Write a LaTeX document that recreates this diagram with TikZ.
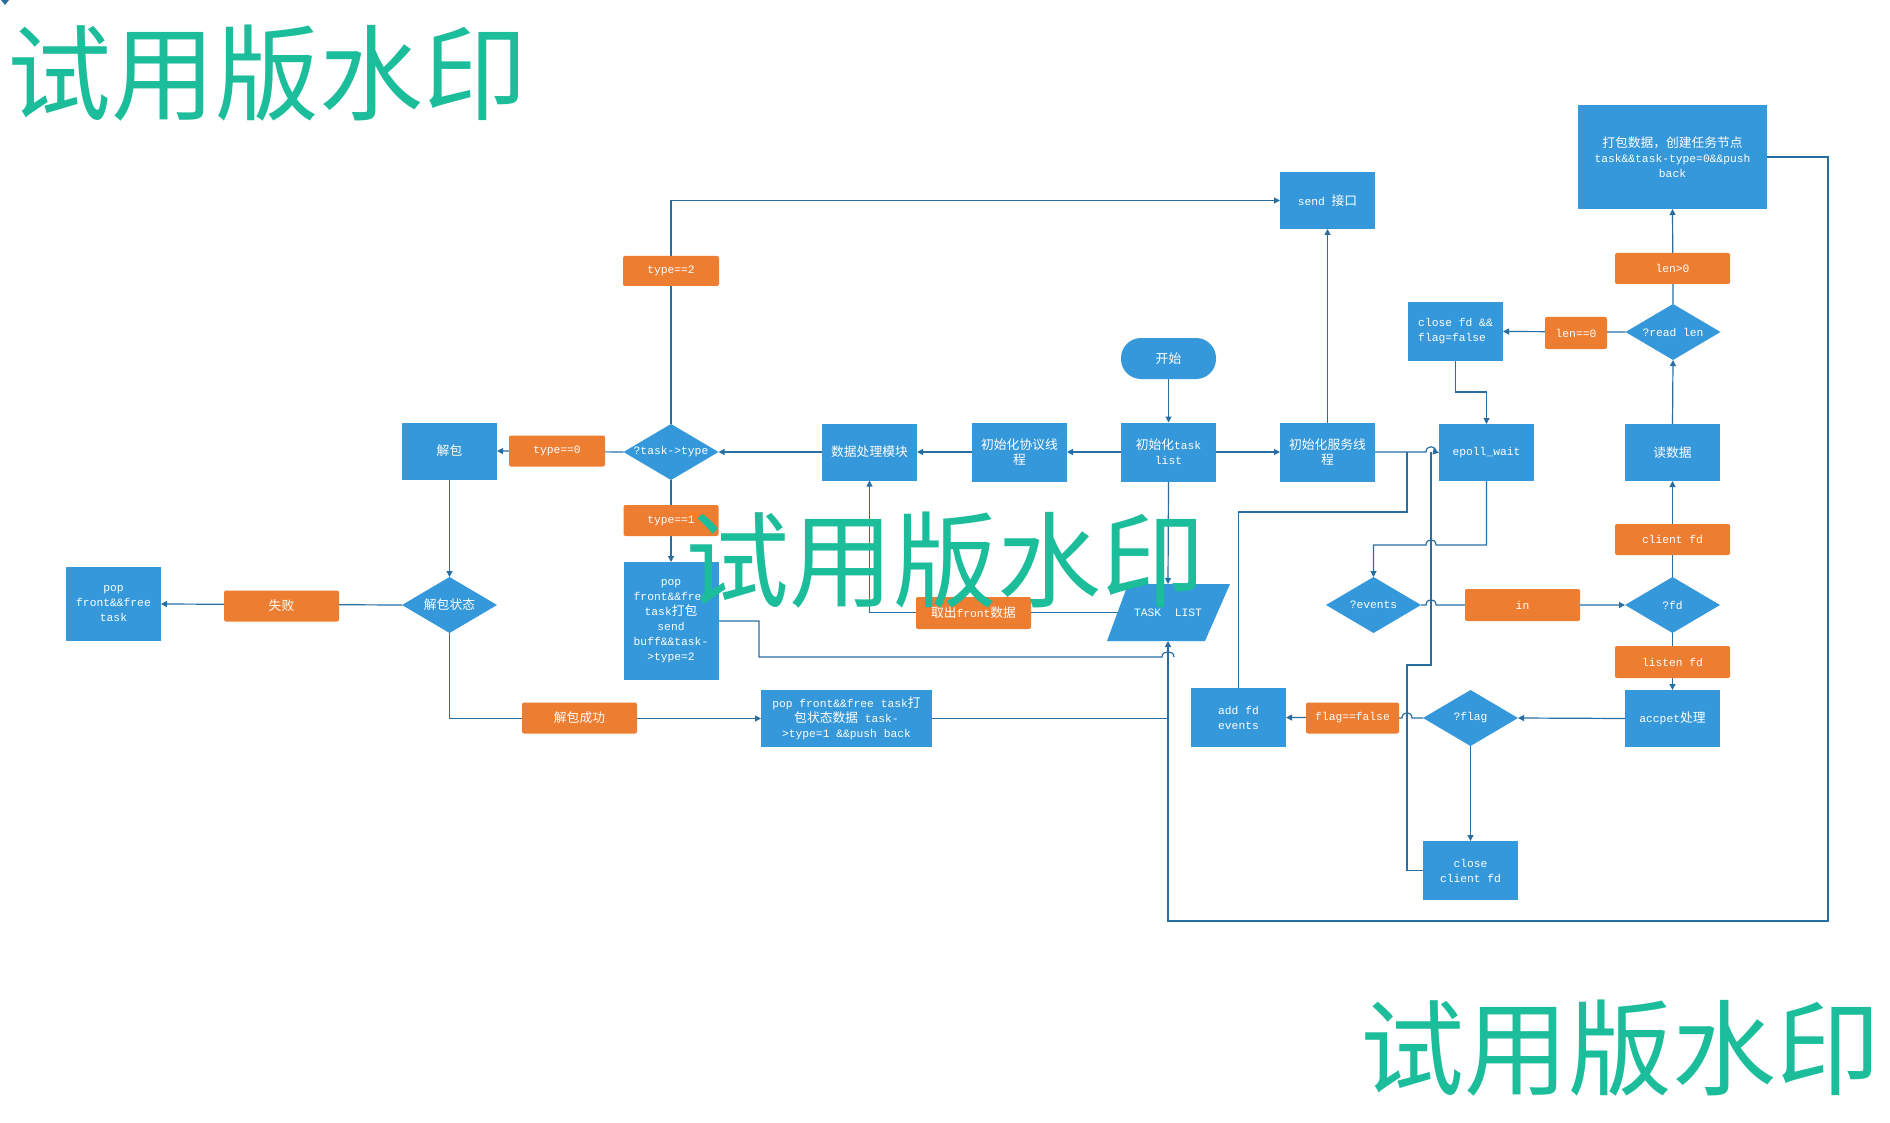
\documentclass[tikz,border=0pt]{standalone}
\usepackage{fontspec}
\setmainfont{Liberation Mono}
\newfontfamily\cjk[Scale=1.13]{Noto Sans CJK SC}
\newfontfamily\wmfont{Noto Sans CJK SC}
\usetikzlibrary{shapes.geometric,arrows.meta}
\definecolor{boxblue}{RGB}{53,152,219}
\definecolor{labelorange}{RGB}{237,125,49}
\definecolor{linkblue}{RGB}{41,110,163}
\definecolor{stampgreen}{RGB}{28,189,155}
\pgfdeclarelayer{paper}
\pgfdeclarelayer{links}
\pgfsetlayers{paper,links,main}
\begin{document}
\begin{tikzpicture}[x=1pt,y=-1pt,
  every node/.style={font=\fontsize{11.3}{15}\selectfont, text=white, inner sep=1pt, outer sep=0pt, align=center},
  blk/.style={rectangle, fill=boxblue, minimum width=95pt, minimum height=57pt},
  tag/.style={rectangle, rounded corners=2pt, fill=labelorange, minimum width=115pt, minimum height=31pt},
  ask/.style={diamond, fill=boxblue, inner sep=0pt, minimum width=95pt, minimum height=56pt},
  link/.style={draw=linkblue, line width=1.2pt},
  arr/.style={link, -{Triangle[length=6pt,width=6pt]}},
  stamp/.style={font=\wmfont\fontsize{104}{104}\selectfont, text=stampgreen, inner sep=0pt}
]
\begin{pgfonlayer}{paper}
\fill[white] (0,0) rectangle (1890,1123);
\end{pgfonlayer}
\useasboundingbox (0,0) rectangle (1890,1123);
\fill[linkblue] (1,0) -- (9,0) -- (5,5) -- cycle;

% ---- process boxes
\node[blk, minimum width=189pt, minimum height=104pt] (pack) at (1672.5,157) {{\cjk 打包数据，创建任务节点}\\task\&\&task-type=0\&\&push\\back};
\node[blk] (send) at (1327.5,200.5) {send {\cjk 接口}};
\node[blk, minimum height=59pt, align=left] (closefd) at (1455.5,331.5) {close fd \&\&\\flag=false};
\node[blk] (epoll) at (1486.5,452.5) {epoll\_wait};
\node[blk] (readd) at (1672.5,452.5) {{\cjk 读数据}};
\node[blk, rounded corners=20pt, minimum height=41pt] (start) at (1168.5,358.5) {{\cjk 开始}};
\node[blk, minimum height=59pt] (tasklist) at (1168.5,452) {{\cjk 初始化}task\\list};
\node[blk, minimum height=59pt] (srv) at (1327.5,452) {{\cjk 初始化服务线}\\{\cjk 程}};
\node[blk, minimum height=59pt] (proto) at (1019.5,452) {{\cjk 初始化协议线}\\{\cjk 程}};
\node[blk] (proc) at (869.5,452) {{\cjk 数据处理模块}};
\node[blk] (unpack) at (449.5,451) {{\cjk 解包}};
\node[blk, minimum height=74pt] (popA) at (113.5,604) {pop\\front\&\&free\\task};
\node[blk, minimum height=118pt] (popB) at (671,621) {pop\\front\&\&free\\task{\cjk 打包}\\send\\buff\&\&task-\\>type=2};
\node[blk, minimum width=171pt] (popC) at (846.5,718.5) {pop front\&\&free task{\cjk 打}\\{\cjk 包状态数据} task-\\>type=1 \&\&push back};
\node[blk, minimum height=59pt, align=left] (addfd) at (1238.5,717.5) {add fd\\events};
\node[blk] (accept) at (1672.5,718.5) {accpet{\cjk 处理}};
\node[blk, minimum height=59pt] (closecl) at (1470.5,870.5) {close\\client fd};

% ---- task list (data)
\fill[boxblue] (1128,584) -- (1230,584) -- (1205,641) -- (1107,641) -- cycle;
\node[minimum width=95pt, minimum height=57pt] (TL) at (1168,612.5) {TASK~~LIST};

% ---- decisions
\node[ask] (qtype) at (671,452) {\makebox[0pt]{?task->type}};
\node[ask] (unst) at (449.5,605) {\makebox[0pt]{\cjk 解包状态}};
\node[ask] (qread) at (1673,332) {\makebox[0pt]{?read len}};
\node[ask] (qevents) at (1373.5,605) {\makebox[0pt]{?events}};
\node[ask] (qfd) at (1672.5,605) {\makebox[0pt]{?fd}};
\node[ask] (qflag) at (1470.5,718) {\makebox[0pt]{?flag}};

% ---- branch labels
\node[tag, minimum width=96pt, minimum height=30pt] (t2) at (671,271) {type==2};
\node[tag, minimum width=96pt] (t0) at (557,451) {type==0};
\node[tag, minimum width=95pt] (t1) at (671,520.5) {type==1};
\node[tag] (fail) at (281.5,606) {{\cjk 失败}};
\node[tag] (ok) at (579.5,718) {{\cjk 解包成功}};
\node[tag, minimum height=32pt] (front) at (973.5,613) {{\cjk 取出}front{\cjk 数据}};
\node[tag] (lgt) at (1672.5,268.5) {len>0};
\node[tag, minimum width=62pt, minimum height=32pt] (leq) at (1576,333) {len==0};
\node[tag, minimum height=32pt] (inlab) at (1522.5,605) {in};
\node[tag] (cfd) at (1672.5,539.5) {client fd};
\node[tag, minimum height=32pt] (lfd) at (1672.5,662) {listen fd};
\node[tag, minimum width=93pt] (ff) at (1352.5,718) {flag==false};

% ---- connectors
\begin{pgfonlayer}{links}
\draw[arr] (start.south) -- (tasklist.north);
\draw[arr] (tasklist.west) -- (proto.east);
\draw[arr] (proto.west) -- (proc.east);
\draw[arr] (proc.west) -- (qtype.east);
\draw[arr] (qtype.west) -- (unpack.east);
\draw[arr] (qtype.north) |- (send.west);
\draw[arr] (qtype.south) -- (popB.north);
\draw[arr] (unpack.south) -- (unst.north);
\draw[arr] (unst.west) -- (popA.east);
\draw[arr] (unst.south) |- (popC.west);
\coordinate (j718) at (1168,718.5);
\draw[link] (popC.east) -- (j718);
\coordinate (j657) at (1174,657);
\draw[link] (popB.east) -- (759,621) |- (1162,657) .. controls (1162,650) and (1174,650) .. (j657);
\draw[arr] (tasklist.south) -- (TL.north);
\draw[arr] (pack.east) -| (1828,921) -| (TL.south);
\draw[arr] (TL.west) -| (proc.south);
\draw[arr] (tasklist.east) -- (srv.west);
\draw[arr] (srv.north) -- (send.south);
\draw[arr] (srv.east) -- (1426,452) .. controls (1426,445) and (1436,445) .. (1436,452) -- (epoll.west);
\coordinate (jA) at (1407,452);
\draw[link] (addfd.north) |- (1407,512) -- (jA);
\coordinate (jB) at (1431,452);
\draw[link] (closecl.west) -| (1407,665) -| (jB);
\draw[arr] (closefd.south) |- (1486.5,392) -- (epoll.north);
\draw[arr] (epoll.south) |- (1436,545) .. controls (1436,538) and (1426,538) .. (1426,545) -| (qevents.north);
\draw[arr] (qevents.east) -- (1426,605) .. controls (1426,598) and (1436,598) .. (1436,605) -- (qfd.west);
\draw[arr] (qfd.north) -- (readd.south);
\draw[arr] (readd.north) -- (qread.south);
\draw[arr] (qread.north) -- (pack.south);
\draw[arr] (qread.west) -- (closefd.east);
\draw[arr] (qfd.south) -- (accept.north);
\draw[arr] (accept.west) -- (qflag.east);
\draw[arr] (qflag.south) -- (closecl.north);
\draw[arr] (qflag.west) -- (1412,718) .. controls (1412,711) and (1402,711) .. (1402,718) -- (addfd.east);
\end{pgfonlayer}

% ---- stamps
\node[stamp] (wm1) at (268,73) {试用版水印};
\node[stamp] (wm2) at (945,560) {试用版水印};
\node[stamp] (wm3) at (1620,1048) {试用版水印};
\end{tikzpicture}
\end{document}
